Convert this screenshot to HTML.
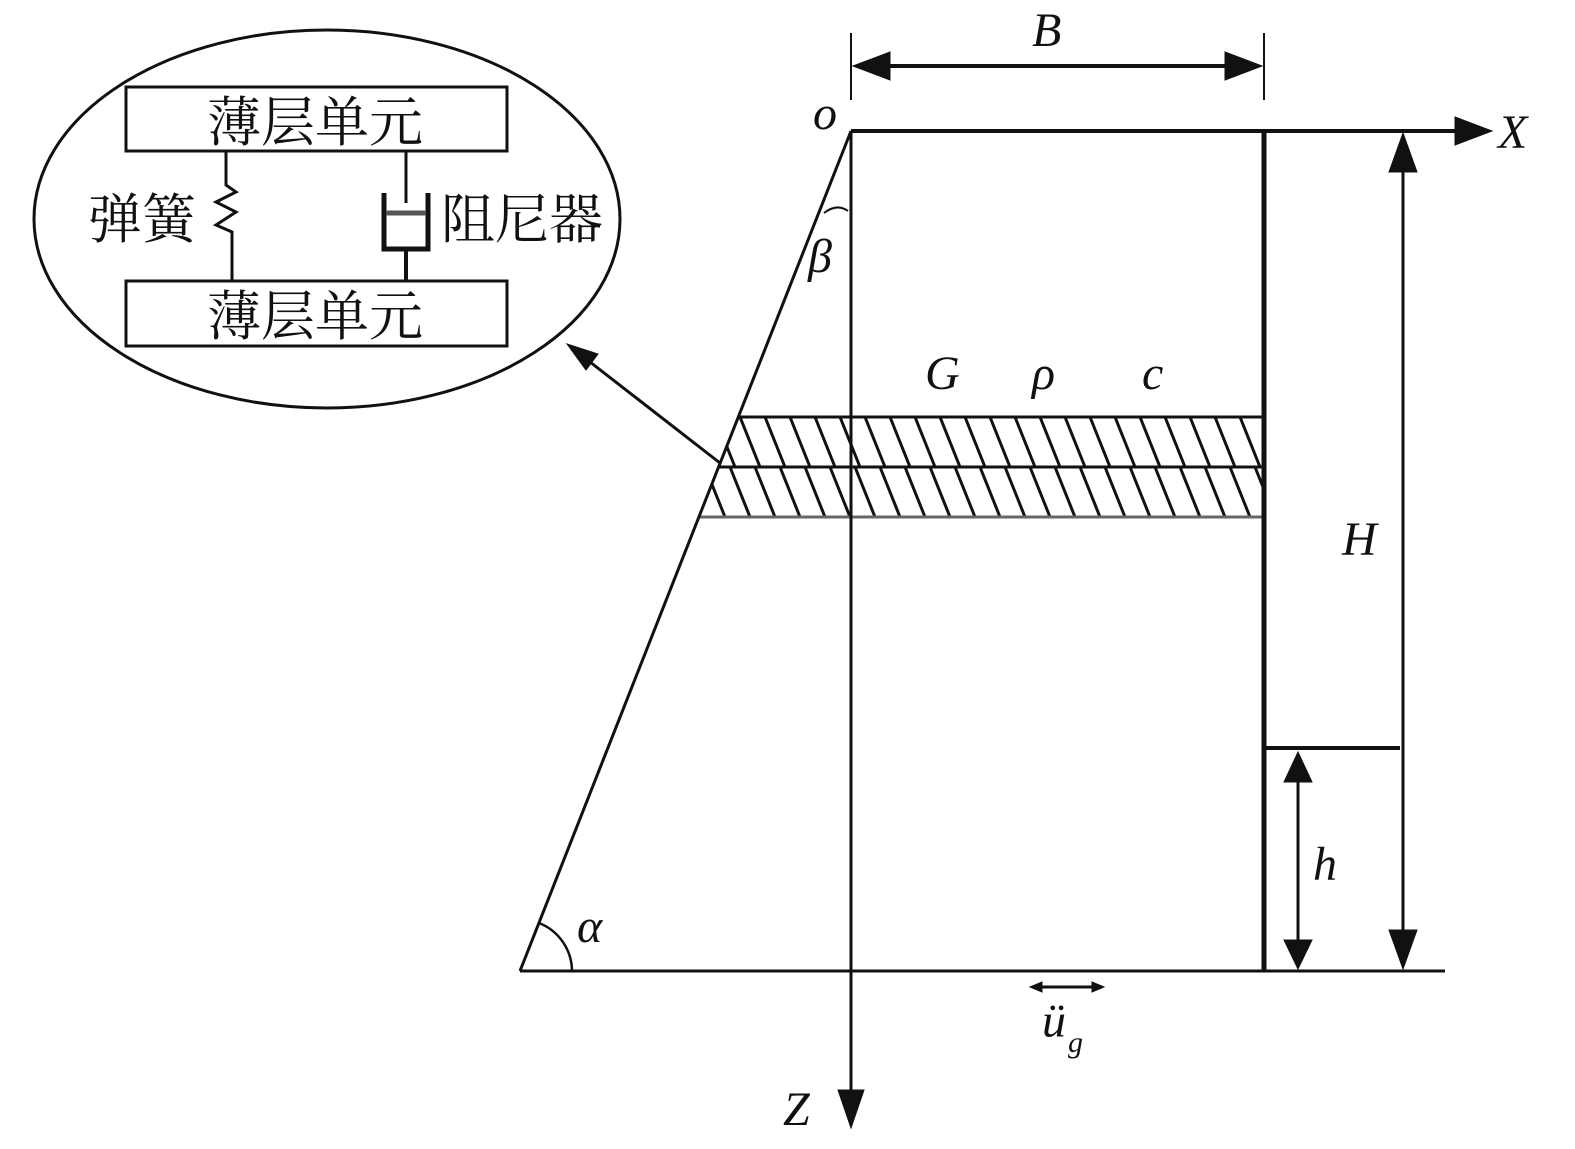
<!DOCTYPE html>
<html><head><meta charset="utf-8"><style>
body{margin:0;background:#fff}
svg{display:block}
.t{font-family:"Liberation Serif",serif;font-style:italic;font-size:48px;fill:#111}
.c{font-family:"Liberation Serif","Noto Serif CJK SC",serif;font-size:54px;fill:#111}
</style></head><body>
<svg width="1575" height="1149" viewBox="0 0 1575 1149" xmlns="http://www.w3.org/2000/svg">
<defs>
<clipPath id="cp"><polygon points="738,417 1262,417 1262,517 699,517"/></clipPath>
</defs>
<g stroke="#111" fill="none">
<ellipse cx="327" cy="219" rx="293" ry="189" stroke-width="3"/>
<rect x="126" y="87" width="381" height="64" stroke-width="3"/>
<rect x="126" y="281" width="381" height="65" stroke-width="3"/>
<polyline points="226,151 226,185 236,192 216,202 236,212 216,225 232,232 232,243 232,281" stroke-width="3"/>
<line x1="406" y1="151" x2="406" y2="203" stroke-width="3"/>
<polyline points="384,193 384,249 428,249 428,193" stroke-width="5"/>
<line x1="386" y1="213" x2="426" y2="213" stroke-width="5" stroke="#555"/>
<line x1="406" y1="249" x2="406" y2="281" stroke-width="4"/>
<line x1="720" y1="463" x2="590" y2="362" stroke-width="3"/>
<polygon points="567,344 598,354 586,370" fill="#111"/>
<g clip-path="url(#cp)" stroke-width="3">
<path d="M690,417 l20,50 M715,417 l20,50 M740,417 l20,50 M765,417 l20,50 M790,417 l20,50 M815,417 l20,50 M840,417 l20,50 M865,417 l20,50 M890,417 l20,50 M915,417 l20,50 M940,417 l20,50 M965,417 l20,50 M990,417 l20,50 M1015,417 l20,50 M1040,417 l20,50 M1065,417 l20,50 M1090,417 l20,50 M1115,417 l20,50 M1140,417 l20,50 M1165,417 l20,50 M1190,417 l20,50 M1215,417 l20,50 M1240,417 l20,50
M680,467 l20,50 M705,467 l20,50 M730,467 l20,50 M755,467 l20,50 M780,467 l20,50 M805,467 l20,50 M830,467 l20,50 M855,467 l20,50 M880,467 l20,50 M905,467 l20,50 M930,467 l20,50 M955,467 l20,50 M980,467 l20,50 M1005,467 l20,50 M1030,467 l20,50 M1055,467 l20,50 M1080,467 l20,50 M1105,467 l20,50 M1130,467 l20,50 M1155,467 l20,50 M1180,467 l20,50 M1205,467 l20,50 M1230,467 l20,50 M1255,467 l20,50"/>
</g>
<line x1="738" y1="417" x2="1264" y2="417" stroke-width="3"/>
<line x1="719" y1="467" x2="1264" y2="467" stroke-width="3"/>
<line x1="699" y1="517" x2="1264" y2="517" stroke-width="3" stroke="#666"/>
<line x1="851" y1="131" x2="520" y2="971" stroke-width="3"/>
<line x1="851" y1="131" x2="1470" y2="131" stroke-width="4"/>
<polygon points="1492,131 1455,117 1455,145" fill="#111"/>
<line x1="1264" y1="131" x2="1264" y2="971" stroke-width="5"/>
<line x1="520" y1="971" x2="1445" y2="971" stroke-width="3"/>
<line x1="851" y1="131" x2="851" y2="1100" stroke-width="3"/>
<polygon points="851,1128 838,1090 864,1090" fill="#111"/>
<line x1="851" y1="33" x2="851" y2="100" stroke-width="2"/>
<line x1="1264" y1="33" x2="1264" y2="100" stroke-width="2"/>
<line x1="875" y1="66" x2="1240" y2="66" stroke-width="4"/>
<polygon points="853,66 890,52 890,80" fill="#111"/>
<polygon points="1262,66 1225,52 1225,80" fill="#111"/>
<line x1="1403" y1="160" x2="1403" y2="945" stroke-width="3"/>
<polygon points="1403,133 1389,172 1417,172" fill="#111"/>
<polygon points="1403,969 1389,930 1417,930" fill="#111"/>
<line x1="1264" y1="748" x2="1400" y2="748" stroke-width="4"/>
<line x1="1298" y1="775" x2="1298" y2="945" stroke-width="3"/>
<polygon points="1298,752 1284,782 1312,782" fill="#111"/>
<polygon points="1298,969 1284,940 1312,940" fill="#111"/>
<path d="M539,923 A52,52 0 0 1 572,971" stroke-width="2.5"/>
<path d="M824,213 Q837,203 848,211" stroke-width="2"/>
<line x1="1036" y1="987" x2="1100" y2="987" stroke-width="3"/>
<polygon points="1030,987 1042,982 1042,992" fill="#111"/>
<polygon points="1104,987 1092,982 1092,992" fill="#111"/>
</g>
<text class="c" x="207" y="141">薄层单元</text>
<text class="c" x="207" y="335">薄层单元</text>
<text class="c" x="88" y="238">弹簧</text>
<text class="c" x="441" y="238">阻尼器</text>
<text class="t" x="1032" y="46">B</text>
<text class="t" x="813" y="129">o</text>
<text class="t" x="1498" y="148">X</text>
<text class="t" x="808" y="272">β</text>
<text class="t" x="925" y="389">G</text>
<text class="t" x="1032" y="389">ρ</text>
<text class="t" x="1142" y="389">c</text>
<text class="t" x="1342" y="555">H</text>
<text class="t" x="1313" y="880">h</text>
<text class="t" x="577" y="942">α</text>
<text class="t" x="1042" y="1037">ü</text>
<text class="t" x="1068" y="1052" style="font-size:30px">g</text>
<text class="t" x="783" y="1125">Z</text>
</svg>
</body></html>
